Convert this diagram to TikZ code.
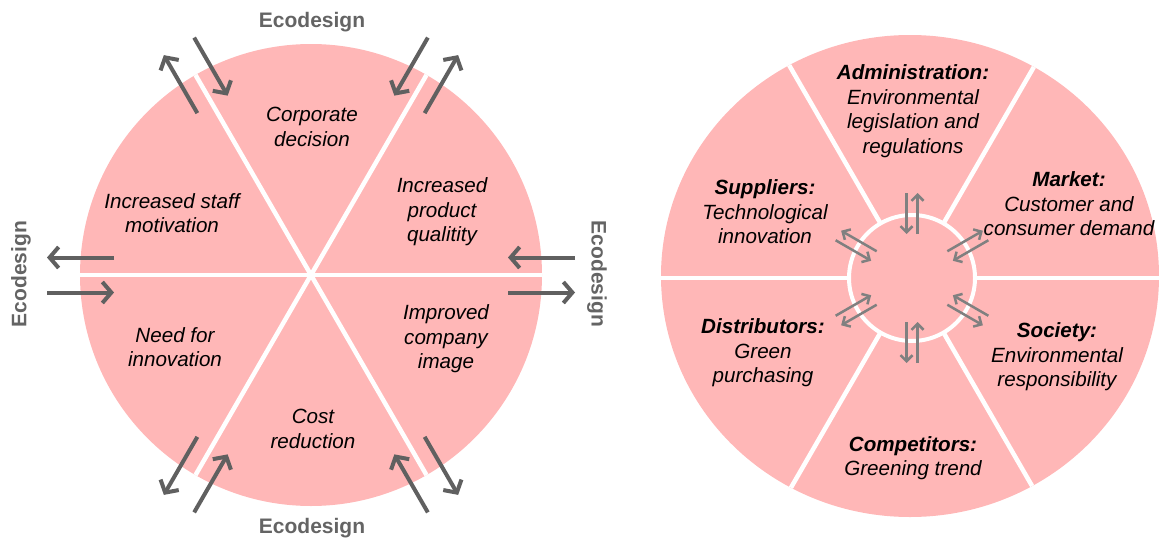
\documentclass[tikz,border=0pt]{standalone}
\usepackage{fontspec}
\setmainfont{Liberation Sans}
\usetikzlibrary{arrows.meta}
\definecolor{pie}{RGB}{255,183,183}
\definecolor{darkarr}{RGB}{96,96,96}
\definecolor{lightarr}{RGB}{128,128,128}
\definecolor{ecogray}{RGB}{100,100,100}
\newcommand\lpair[3]{%
  \begin{scope}[shift={(L)}, rotate=#1]
    \draw[bigarr] (264pt,#2pt) -- (197pt,#2pt);
    \draw[bigarr] (197pt,#3pt) -- (264pt,#3pt);
  \end{scope}}
\newcommand\rpair[3]{%
  \begin{scope}[shift={(Rc)}, rotate=#1]
    \draw[smallarr] (85pt,#2pt) -- (44pt,#2pt);
    \draw[smallarr] (44pt,#3pt) -- (85pt,#3pt);
  \end{scope}}
\begin{document}
\begin{tikzpicture}[x=1pt,y=-1pt,
  txt/.style={font=\fontsize{20.6}{24.5}\selectfont\itshape, align=center, inner sep=0pt, text=black},
  eco/.style={font=\fontsize{21}{25}\selectfont\bfseries, text=ecogray, inner sep=0pt},
  bigarr/.style={draw=darkarr, line width=4pt, -{Straight Barb[length=9pt,width=21pt]}},
  smallarr/.style={draw=lightarr, line width=2.5pt, -{Straight Barb[length=6pt,width=12pt]}},
  divider/.style={draw=white, line width=4.5pt}]
\useasboundingbox (0,0) rectangle (1159,538);
% ---------- left wheel ----------
\coordinate (L) at (311,275);
\fill[pie] (L) circle[radius=231];
\begin{scope}
  \clip (L) circle[radius=231];
  \foreach \a in {0,60,120}
    \draw[divider] ([shift={(\a:240pt)}]L) -- ([shift={(\a+180:240pt)}]L);
\end{scope}
\lpair{0}{17.5}{-17.5}
\lpair{60}{17.5}{-17.5}
\lpair{120}{-17.5}{17.5}
\lpair{180}{17.5}{-17.5}
\lpair{240}{17.5}{-17.5}
\lpair{300}{-17.5}{17.5}
\node[txt] (cd) at (312,127) {Corporate\\decision};
\node[txt] (ism) at (172,213) {Increased staff\\motivation};
\node[txt] (ipq) at (442,212) {Increased\\product\\qualitity};
\node[txt] (nfi) at (175,347) {Need for\\innovation};
\node[txt] (ici) at (446,339) {Improved\\company\\image};
\node[txt] (cr) at (313,429) {Cost\\reduction};
\node[eco] (ecot) at (312,22) {Ecodesign};
\node[eco] (ecob) at (312,528) {Ecodesign};
\node[eco, rotate=90] (ecol) at (21,274) {Ecodesign};
\node[eco, rotate=-90] (ecor) at (597,274) {Ecodesign};
% ---------- right wheel ----------
\coordinate (R) at (910,276);
\coordinate (Rc) at (912,278);
\fill[pie] (R) ellipse[x radius=249, y radius=241];
\begin{scope}
  \clip (R) ellipse[x radius=249, y radius=241];
  \foreach \a in {0,60,120,180,240,300}
    \draw[divider] ([shift={(\a:63pt)}]Rc) -- ([shift={(\a:300pt)}]Rc);
\end{scope}
\draw[draw=white, line width=4pt] (Rc) circle[radius=63];
\rpair{30}{-5.5}{5.5}
\rpair{90}{5.5}{-5.5}
\rpair{150}{5.5}{-5.5}
\rpair{210}{-5.5}{5.5}
\rpair{270}{5.5}{-5.5}
\rpair{330}{5.5}{-5.5}
\node[txt] (adm) at (913,111) {\textbf{Administration:}\\Environmental\\legislation and\\regulations};
\node[txt] (sup) at (765,212) {\textbf{Suppliers:}\\Technological\\innovation};
\node[txt] (mkt) at (1069,204) {\textbf{Market:}\\Customer and\\consumer demand};
\node[txt] (dis) at (763,353) {\textbf{Distributors:}\\Green\\purchasing};
\node[txt] (soc) at (1057,357) {\textbf{Society:}\\Environmental\\responsibility};
\node[txt] (com) at (913,458) {\textbf{Competitors:}\\Greening trend};
\end{tikzpicture}
\end{document}
